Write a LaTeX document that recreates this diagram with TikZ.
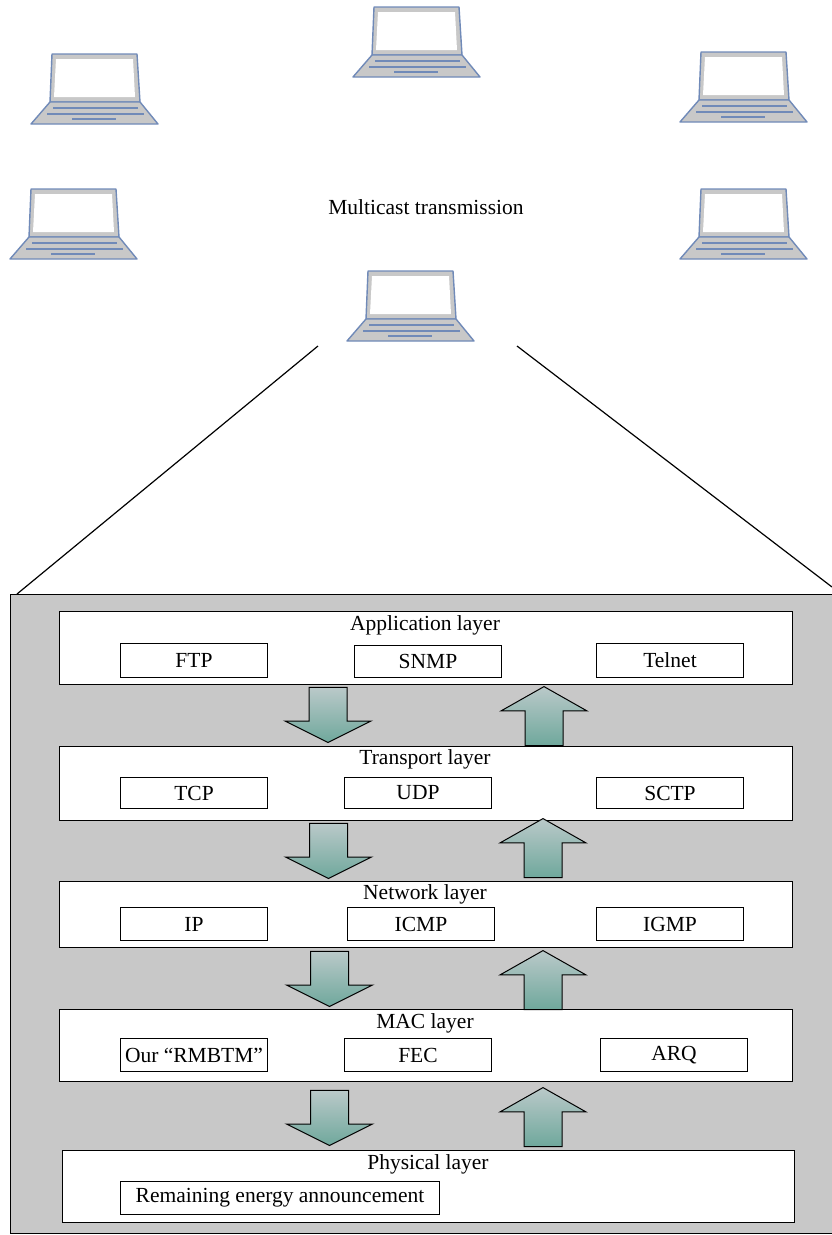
\documentclass[tikz,border=0pt]{standalone}
\usepackage{fontspec}
\setmainfont{Liberation Serif}
\usetikzlibrary{
  positioning,
  shapes.arrows,
}
\definecolor{laptopblue}{RGB}{112, 138, 184}
\definecolor{panelgray}{RGB}{200, 200, 200}
\definecolor{arrowlight}{RGB}{186, 201, 201}
\definecolor{arrowdark}{RGB}{111, 168, 156}
\tikzstyle{layerbox} = [
  draw=black,
  line width=1.2pt,
  fill=white,
  anchor=north west,
  inner sep=0pt,
]
\tikzstyle{protobox} = [
  draw=black,
  line width=1pt,
  fill=white,
  anchor=north west,
  minimum width=147pt,
  inner sep=0pt,
]
\tikzstyle{layertitle} = [
  inner sep=0pt,
]
\tikzstyle{bigarrow} = [
  single arrow,
  anchor=tip,
  draw=black,
  line width=1pt,
  top color=arrowlight,
  bottom color=arrowdark,
  minimum width=85pt,
  single arrow head extend=24pt,
  inner xsep=18.5pt,
  inner ysep=0pt,
]
\tikzstyle{downarrow} = [bigarrow, shape border rotate=270, minimum height=55pt, single arrow tip angle=127]
\tikzstyle{uparrow} = [bigarrow, shape border rotate=90, minimum height=59pt, single arrow tip angle=121]
\tikzset{
  pics/laptop/.style={
    code={
      \draw [laptopblue, line width=1.4pt, fill=panelgray, line join=round]
            (21,-70) -- (106,-70) -- (109,-22) -- (19,-22) -- cycle;
      \fill [white] (25,-65) -- (102,-65) -- (104,-27) -- (23,-27) -- cycle;
      \draw [laptopblue, line width=1.4pt, fill=panelgray, line join=round]
            (19,-22) -- (109,-22) -- (127,0) -- (0,0) -- cycle;
      \draw [laptopblue, line width=1.4pt] (22,-16) -- (107,-16);
      \draw [laptopblue, line width=1.4pt] (16,-10) -- (113,-10);
      \draw [laptopblue, line width=1.4pt] (41,-5) -- (85,-5);
    }
  },
}

\begin{document}
\begin{tikzpicture}[x=1pt, y=-1pt, font=\fontsize{21.5}{24}\selectfont]

        \useasboundingbox (0,0) rectangle (832,1235);

        % laptops
        \pic at (353,77) {laptop};
        \pic at (31,124) {laptop};
        \pic at (680,122) {laptop};
        \pic at (10,259) {laptop};
        \pic at (680,259) {laptop};
        \pic at (347,341) {laptop};

        \node [inner sep=0pt] (multicast) at (426,207) {Multicast transmission};

        % grey panel
        \node [draw=black, line width=1.2pt, fill=panelgray, anchor=north west,
               inner sep=0pt, minimum width=840pt, minimum height=639pt]
              (stack) at (10,594) {};

        \coordinate (lapleft) at (318,346);
        \coordinate (lapright) at (517,346);
        \coordinate (stackleft) at (17,594);
        \coordinate (stackright) at (832,587);
        \draw [line width=1.2pt] (lapleft) -- (stackleft);
        \draw [line width=1.2pt] (lapright) -- (stackright);

        % layers
        \node [layerbox, minimum width=733pt, minimum height=73pt] (app) at (59,611) {};
        \node [layerbox, minimum width=733pt, minimum height=74pt] (trans) at (59,746) {};
        \node [layerbox, minimum width=733pt, minimum height=66pt] (net) at (59,881) {};
        \node [layerbox, minimum width=733pt, minimum height=72pt] (mac) at (59,1009) {};
        \node [layerbox, minimum width=732pt, minimum height=72pt] (phy) at (62,1150) {};

        \node [layertitle] (apptitle) at (425,625) {Application layer};
        \node [layertitle] (transtitle) at (425,759) {Transport layer};
        \node [layertitle] (nettitle) at (425,894) {Network layer};
        \node [layertitle] (mactitle) at (425,1023) {MAC layer};
        \node [layertitle] (phytitle) at (428,1164) {Physical layer};

        % protocols
        \node [protobox, minimum height=34pt] (ftp) at (120,643) {FTP};
        \node [protobox, minimum height=32pt] (snmp) at (354,645) {SNMP};
        \node [protobox, minimum height=34pt] (telnet) at (596,643) {Telnet};

        \node [protobox, minimum height=31pt] (tcp) at (120,777) {TCP};
        \node [protobox, minimum height=31pt] (udp) at (344,777) {UDP};
        \node [protobox, minimum height=31pt] (sctp) at (596,777) {SCTP};

        \node [protobox, minimum height=33pt] (ip) at (120,907) {IP};
        \node [protobox, minimum height=33pt] (icmp) at (347,907) {ICMP};
        \node [protobox, minimum height=33pt] (igmp) at (596,907) {IGMP};

        \node [protobox, minimum height=33pt] (rmbtm) at (120,1038) {Our ``RMBTM''};
        \node [protobox, minimum height=33pt] (fec) at (344,1038) {FEC};
        \node [protobox, minimum height=33pt] (arq) at (600,1038) {ARQ};

        \node [protobox, minimum width=319pt, minimum height=33pt] (energy) at (120,1181)
              {Remaining energy announcement};

        % arrows between the layers
        \node [downarrow] (down1) at (328,743) {};
        \node [uparrow] (up1) at (544,686) {};
        \node [downarrow] (down2) at (328.5,879) {};
        \node [uparrow] (up2) at (543,818) {};
        \node [downarrow] (down3) at (329.5,1007) {};
        \node [uparrow] (up3) at (543,950) {};
        \node [downarrow] (down4) at (329.5,1146) {};
        \node [uparrow] (up4) at (543,1087) {};
      \end{tikzpicture}
\end{document}
